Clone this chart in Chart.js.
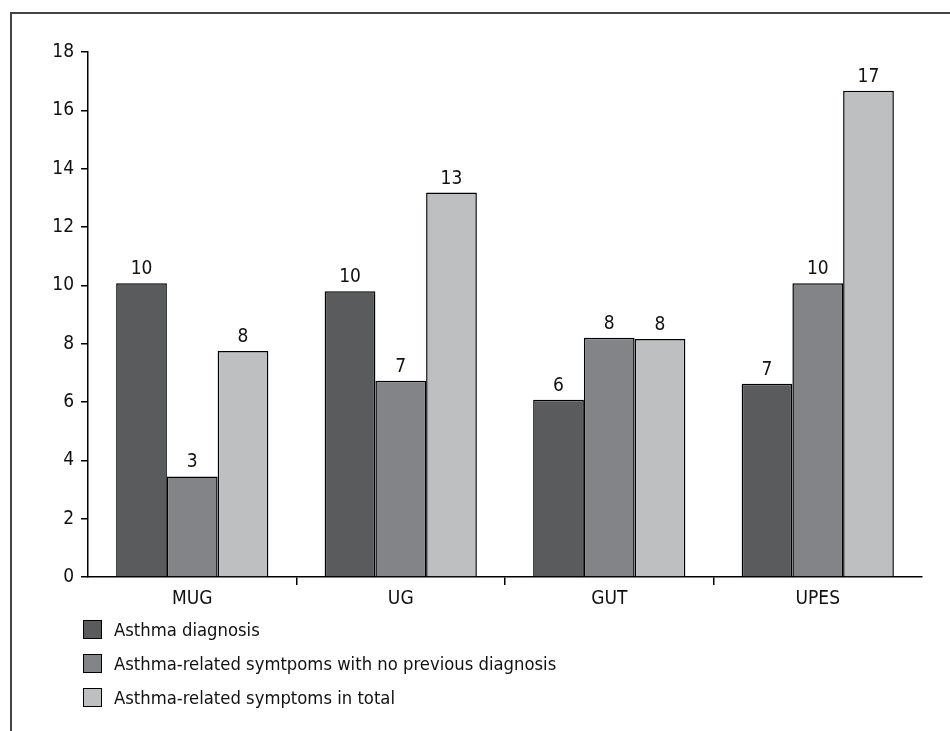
<!DOCTYPE html>
<html lang="en">
<head>
  <meta charset="UTF-8" />
  <title>Asthma diagnosis and symptoms</title>
  <script src="https://cdn.jsdelivr.net/npm/chart.js"></script>
  <style>
    body {
      margin: 0;
      background: white;
      font-family: 'Liberation Sans Narrow', 'DejaVu Sans Condensed', sans-serif;
    }
    .wrap {
      position: relative;
      width: 950px;
      height: 731px;
    }
    .frame {
      position: absolute;
      left: 10px;
      top: 12px;
      right: -4px;
      bottom: -4px;
      border-top: 2px solid #444;
      border-left: 2px solid #444;
    }
    canvas {
      position: absolute;
      left: 0;
      top: 0;
    }
    #legend {
      position: absolute;
      left: 83px;
      top: 612px;
      font-size: 18.3px;
      color: #111;
    }
    .item {
      display: flex;
      align-items: center;
      height: 34px;
    }
    .box {
      width: 17px;
      height: 17px;
      border: 1.5px solid #000;
      margin-right: 12px;
    }
  </style>
</head>
<body>
  <div class="wrap">
    <div class="frame"></div>
    <canvas id="grafico" width="950" height="731"></canvas>
    <div id="legend"></div>
  </div>

  <script>
    const categorias = ['MUG', 'UG', 'GUT', 'UPES'];
    const nomesSeries = [
      'Asthma diagnosis',
      'Asthma-related symtpoms with no previous diagnosis',
      'Asthma-related symptoms in total'
    ];
    const diagnostico = [10.07, 9.8, 6.08, 6.63];
    const semDiagnostico = [3.45, 6.73, 8.2, 10.07];
    const sintomasTotal = [7.75, 13.18, 8.16, 16.67];
    const cores = ['#5a5b5d', '#838487', '#bebfc1'];

    const fonte = "'Liberation Sans Narrow', 'DejaVu Sans Condensed', sans-serif";

    // rotulos em cima das barras
    const rotulos = {
      id: 'rotulos',
      afterDatasetsDraw(chart) {
        const ctx = chart.ctx;
        ctx.save();
        ctx.font = '19px ' + fonte;
        ctx.fillStyle = '#111';
        ctx.textAlign = 'center';
        ctx.textBaseline = 'alphabetic';
        chart.data.datasets.forEach((ds, i) => {
          chart.getDatasetMeta(i).data.forEach((bar, j) => {
            ctx.fillText(Math.round(ds.data[j]), bar.x, bar.y - 9);
          });
        });
        ctx.restore();
      }
    };

    const series = [diagnostico, semDiagnostico, sintomasTotal];

    const grafico = new Chart(document.getElementById('grafico').getContext('2d'), {
      type: 'bar',
      data: {
        labels: categorias,
        datasets: series.map((d, i) => ({
          label: nomesSeries[i],
          data: d,
          backgroundColor: cores[i],
          borderColor: '#000',
          borderWidth: 1.5,
          categoryPercentage: 0.73,
          barPercentage: 1
        }))
      },
      plugins: [rotulos],
      options: {
        responsive: false,
        animation: false,
        layout: { padding: { top: 52, right: 28, bottom: 114, left: 0 } },
        plugins: {
          legend: { display: false },
          tooltip: { enabled: false }
        },
        scales: {
          x: {
            afterFit(scale) { scale.height = 40; },
            border: { display: true, color: '#000', width: 1.5 },
            grid: {
              drawOnChartArea: false,
              tickLength: 8,
              lineWidth: 1.5,
              color: ctx => (ctx.index > 0 && ctx.index < 4) ? '#000' : 'rgba(0,0,0,0)'
            },
            ticks: { color: '#111', padding: 3, font: { family: fonte, size: 19 } }
          },
          y: {
            min: 0,
            max: 18,
            afterFit(scale) { scale.width = 88; },
            border: { display: true, color: '#000', width: 1.5 },
            grid: { drawOnChartArea: false, tickLength: 7, lineWidth: 1.5, color: '#000' },
            ticks: { stepSize: 2, color: '#111', padding: 7, font: { family: fonte, size: 19 } }
          }
        }
      }
    });

    // legenda em lista vertical
    const legenda = document.getElementById('legend');
    grafico.data.datasets.forEach(ds => {
      const item = document.createElement('div');
      item.className = 'item';
      item.innerHTML = '<span class="box" style="background:' + ds.backgroundColor + '"></span>' + ds.label;
      legenda.appendChild(item);
    });
  </script>
</body>
</html>
